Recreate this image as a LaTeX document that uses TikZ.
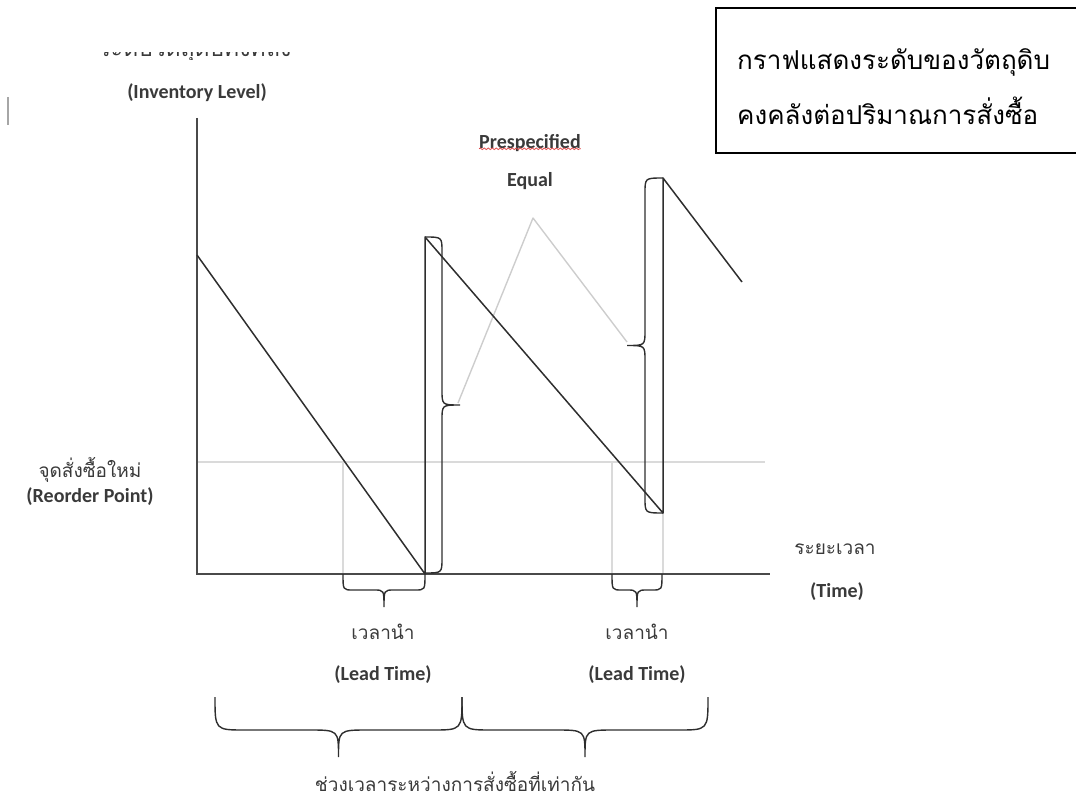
\documentclass[tikz,border=0pt]{standalone}
\usepackage{fontspec}
\setmainfont{Carlito}
\newfontfamily\thaifont[Script=Thai]{Loma}
\usetikzlibrary{decorations.pathmorphing}
\definecolor{ink}{HTML}{2E2E2E}
\definecolor{axisgray}{HTML}{4A4A4A}
\definecolor{guide}{HTML}{DADADA}
\definecolor{faint}{HTML}{CDCDCD}
\definecolor{labelgray}{HTML}{3A3A3A}
\definecolor{spellred}{HTML}{E04848}

% curly brace opening upwards, tip pointing down: x1, x2, base y, bar y, tip y, corner
\newcommand{\bracedown}[6]{%
  \pgfmathsetmacro{\bmid}{(#1+#2)/2}%
  \draw[bracestroke] (#1,#3) .. controls (#1,#4) .. (#1+#6,#4) -- (\bmid-#6,#4)
    .. controls (\bmid,#4) .. (\bmid,#5) .. controls (\bmid,#4) .. (\bmid+#6,#4)
    -- (#2-#6,#4) .. controls (#2,#4) .. (#2,#3);}
% vertical curly brace: y1, y2, base x, bar x, tip x, corner
\newcommand{\braceside}[6]{%
  \pgfmathsetmacro{\bmid}{(#1+#2)/2}%
  \draw[bracestroke] (#3,#1) .. controls (#4,#1) .. (#4,#1+#6) -- (#4,\bmid-#6)
    .. controls (#4,\bmid) .. (#5,\bmid) .. controls (#4,\bmid) .. (#4,\bmid+#6)
    -- (#4,#2-#6) .. controls (#4,#2) .. (#3,#2);}

\begin{document}
\begin{tikzpicture}[x=1pt,y=-1pt,
  axisline/.style={draw=axisgray,line width=2.2pt},
  stock/.style={draw=ink,line width=1.5pt,line join=round},
  guideline/.style={draw=guide,line width=1.4pt},
  faintline/.style={draw=faint,line width=1.4pt,line join=round},
  bracestroke/.style={draw=ink,line width=1.4pt},
  lab/.style={text=labelgray,font=\fontsize{20}{22}\selectfont\bfseries,inner sep=0pt},
  thlab/.style={text=labelgray,font=\fontsize{19}{22}\selectfont\thaifont,inner sep=0pt},
  titlebox/.style={draw=black,line width=1.4pt},
]
\useasboundingbox (0,0) rectangle (1076,799);

% key points of the chart
\coordinate (top) at (197,118);
\coordinate (o) at (197,574);
\coordinate (xend) at (770,574);
\coordinate (s0) at (197,255);
\coordinate (z1) at (425,574);
\coordinate (p1) at (425,237);
\coordinate (z2) at (663,513);
\coordinate (p2) at (663,178);
\coordinate (s3) at (742,282);
\coordinate (rp0) at (197,462);
\coordinate (rp1) at (765,462);
\coordinate (r1) at (343,462);
\coordinate (r1b) at (343,574);
\coordinate (r2) at (612,462);
\coordinate (r2b) at (612,574);
\coordinate (z2b) at (663,574);
\coordinate (q1) at (458,403);
\coordinate (qpk) at (533,218);
\coordinate (q2) at (627,342);

% guide lines
\draw[guideline] (rp0) -- (rp1);
\draw[guideline] (r1) -- (r1b);
\draw[guideline] (r2) -- (r2b);
\draw[guideline] (z2) -- (z2b);
\draw[faintline] (q1) -- (qpk) -- (q2);

% axes
\draw[axisline] (top) -- (o) -- (xend);

% stock level
\draw[stock] (s0) -- (z1) -- (p1) -- (z2) -- (p2) -- (s3);

% braces
\braceside{237}{573}{425}{442}{460}{15}
\braceside{178}{513}{663}{645}{627}{15}
\bracedown{343}{425}{574}{590}{607}{10}
\bracedown{612}{662}{574}{590}{607}{10}
\bracedown{215}{462}{697}{730}{757}{30}
\bracedown{462}{708}{697}{730}{757}{30}

% stray mark
\draw[draw=gray!70,line width=1.2pt] (8,97) -- (8,125);

% title box
\draw[titlebox] (716,8) rectangle (1082,153);
\node[anchor=base west,inner sep=0pt,font=\fontsize{26}{30}\selectfont\thaifont] (t1) at (737,70) {กราฟแสดงระดับของวัตถุดิบ};
\node[anchor=base west,inner sep=0pt,font=\fontsize{26}{30}\selectfont\thaifont] (t2) at (737,125) {คงคลังต่อปริมาณการสั่งซื้อ};

% axis captions
\begin{scope}
  \clip (80,53) rectangle (310,60);
  \node[thlab,anchor=base,font=\fontsize{23}{26}\selectfont\thaifont] (ycapth) at (195,57) {ระดับวัตถุดิบคงคลัง};
\end{scope}
\node[lab] (ycap) at (197,93) {(Inventory Level)};
\node[thlab] (rpth) at (90,470) {จุดสั่งซื้อใหม่};
\node[lab] (rpen) at (90,497) {(Reorder Point)};
\node[thlab] (xth) at (835,549) {ระยะเวลา};
\node[lab] (xen) at (837,592) {(Time)};

\node[lab] (pre) at (530,143) {Prespecified};
\draw[spellred,line width=0.8pt,decorate,decoration={snake,amplitude=0.8pt,segment length=4pt}] (pre.south west) ++(0,-3) -- ([yshift=3pt]pre.south east);
\node[lab] (eq) at (530,181) {Equal};

\node[thlab] (lt1th) at (383,632) {เวลานำ};
\node[lab] (lt1en) at (383,675) {(Lead Time)};
\node[thlab] (lt2th) at (637,632) {เวลานำ};
\node[lab] (lt2en) at (637,675) {(Lead Time)};

\node[thlab] (cyc) at (455,781) {ช่วงเวลาระหว่างการสั่งซื้อที่เท่ากัน};
\end{tikzpicture}
\end{document}
